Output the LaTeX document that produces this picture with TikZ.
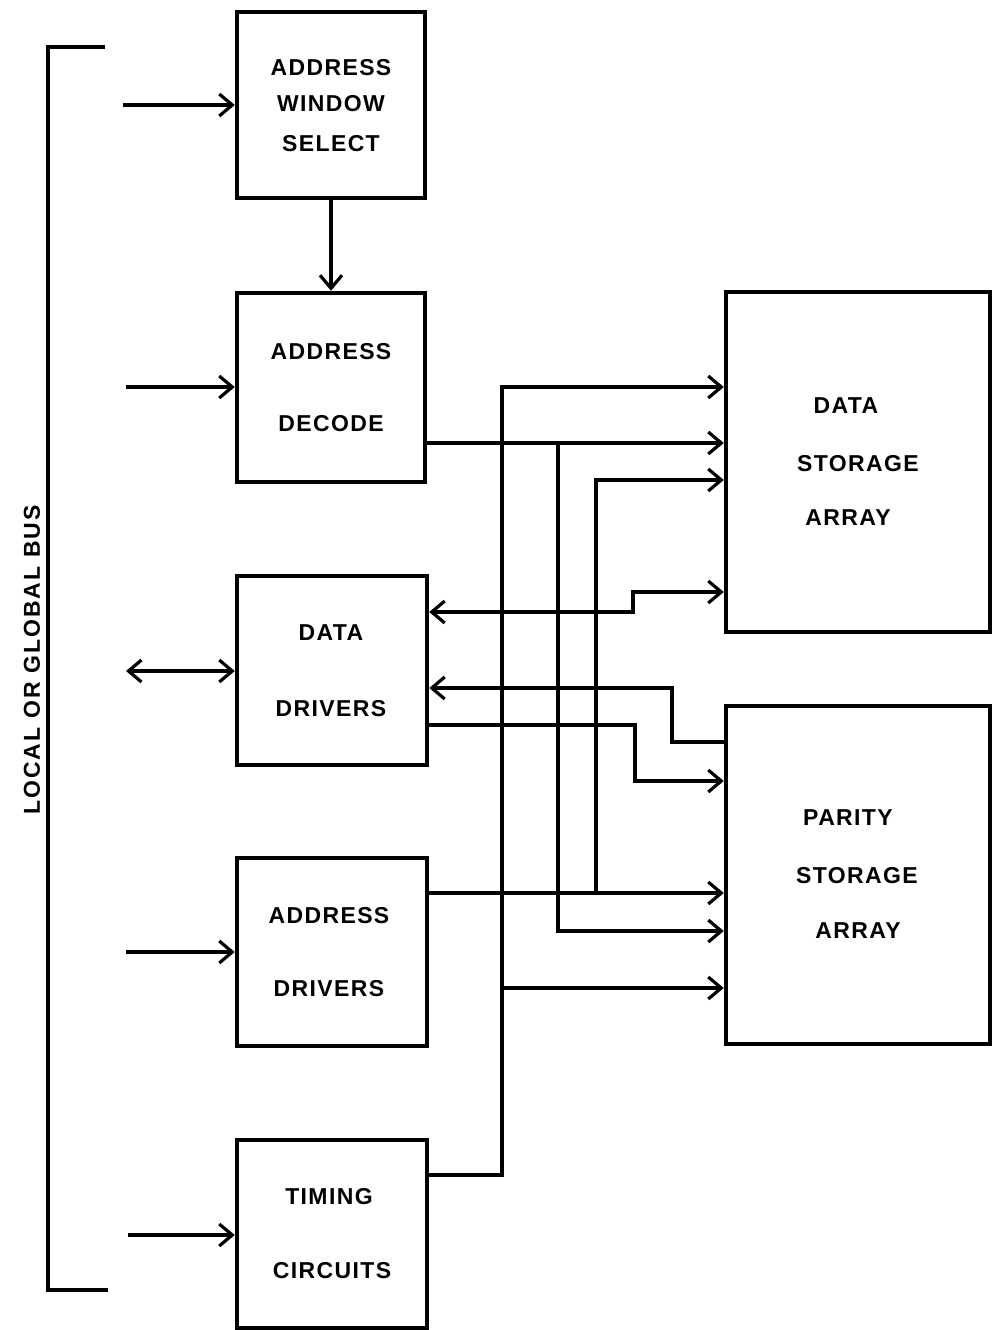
\documentclass[tikz,border=0pt]{standalone}
\usepackage{fontspec}
\setmainfont{Liberation Sans}[LetterSpace=6]
\usetikzlibrary{arrows.meta}
\tikzset{
  blk/.style={draw, line width=4.5pt, inner sep=0pt},
  lbl/.style={font=\fontsize{23}{26}\selectfont\bfseries, inner sep=0pt},
  wire/.style={line width=4pt, line join=miter},
  arr/.style={wire, -{Straight Barb[length=13pt,width=22pt,line width=3.2pt]}},
  rarr/.style={wire, {Straight Barb[length=13pt,width=22pt,line width=3.2pt]}-},
  barr/.style={wire, {Straight Barb[length=13pt,width=22pt,line width=3.2pt]}-{Straight Barb[length=13pt,width=22pt,line width=3.2pt]}},
}
\begin{document}
\begin{tikzpicture}[x=1pt,y=-1pt]
\useasboundingbox (0,0) rectangle (993,1330);
% boxes
\node[blk, minimum width=188pt, minimum height=186pt] (aws) at (331,105) {};
\node[blk, minimum width=188pt, minimum height=189pt] (dec) at (331,387.5) {};
\node[blk, minimum width=190pt, minimum height=189pt] (ddr) at (332,670.5) {};
\node[blk, minimum width=190pt, minimum height=188pt] (adr) at (332,952) {};
\node[blk, minimum width=190pt, minimum height=188pt] (tim) at (332,1234) {};
\node[blk, minimum width=264pt, minimum height=340pt] (dsa) at (858,462) {};
\node[blk, minimum width=264pt, minimum height=338pt] (psa) at (858,875) {};
% labels
\node[lbl] (t1) at (331,68) {ADDRESS};
\node[lbl] (t2) at (331,104) {WINDOW};
\node[lbl] (t3) at (331,144) {SELECT};
\node[lbl] (t4) at (331,352) {ADDRESS};
\node[lbl] (t5) at (331,424) {DECODE};
\node[lbl] (t6) at (331,633) {DATA};
\node[lbl] (t7) at (331,709) {DRIVERS};
\node[lbl] (t8) at (329,916) {ADDRESS};
\node[lbl] (t9) at (329,989) {DRIVERS};
\node[lbl] (t10) at (329,1197) {TIMING};
\node[lbl] (t11) at (332,1271) {CIRCUITS};
\node[lbl] (t12) at (846,406) {DATA};
\node[lbl] (t13) at (858,464) {STORAGE};
\node[lbl] (t14) at (848,518) {ARRAY};
\node[lbl] (t15) at (848,818) {PARITY};
\node[lbl] (t16) at (857,876) {STORAGE};
\node[lbl] (t17) at (858,931) {ARRAY};
\node[lbl, rotate=90, font=\fontsize{23}{26}\selectfont\bfseries\addfontfeature{LetterSpace=9}] (bus) at (32,660) {LOCAL OR GLOBAL BUS};
% bus bracket
\draw[wire, line width=4.5pt] (105,47) -- (48,47) -- (48,1290) -- (108,1290);
% inputs from bus
\coordinate (i1) at (123,105);
\coordinate (i2) at (126,387);
\coordinate (i3) at (126,671);
\coordinate (i4) at (126,952);
\coordinate (i5) at (128,1235);
\draw[arr] (i1) -- (i1 -| aws.west);
\draw[arr] (i2) -- (i2 -| dec.west);
\draw[barr] (i3) -- (i3 -| ddr.west);
\draw[arr] (i4) -- (i4 -| adr.west);
\draw[arr] (i5) -- (i5 -| tim.west);
% window select to decode
\draw[arr] (aws.south) -- (dec.north);
% timing bus
\coordinate (ta) at (502,1175);
\coordinate (tb) at (502,387);
\coordinate (tc) at (502,988);
\draw[arr] (ta -| tim.east) -- (ta) -- (tb) -- (tb -| dsa.west);
\draw[arr] (tc) -- (tc -| psa.west);
% address decode
\coordinate (da) at (558,443);
\coordinate (db) at (558,931);
\draw[arr] (da -| dec.east) -- (da -| dsa.west);
\draw[arr] (da) -- (db) -- (db -| psa.west);
% address drivers
\coordinate (aa) at (596,893);
\coordinate (ab) at (596,480);
\draw[arr] (aa -| adr.east) -- (aa -| psa.west);
\draw[arr] (aa) -- (ab) -- (ab -| dsa.west);
% data lines
\coordinate (sa) at (633,612);
\coordinate (sb) at (633,592);
\draw[barr] (sa -| ddr.east) -- (sa) -- (sb) -- (sb -| dsa.west);
\coordinate (pa) at (672,688);
\coordinate (pb) at (672,742);
\draw[rarr] (pa -| ddr.east) -- (pa) -- (pb) -- (pb -| psa.west);
\coordinate (qa) at (635,725);
\coordinate (qb) at (635,781);
\draw[arr] (qa -| ddr.east) -- (qa) -- (qb) -- (qb -| psa.west);
\end{tikzpicture}
\end{document}
